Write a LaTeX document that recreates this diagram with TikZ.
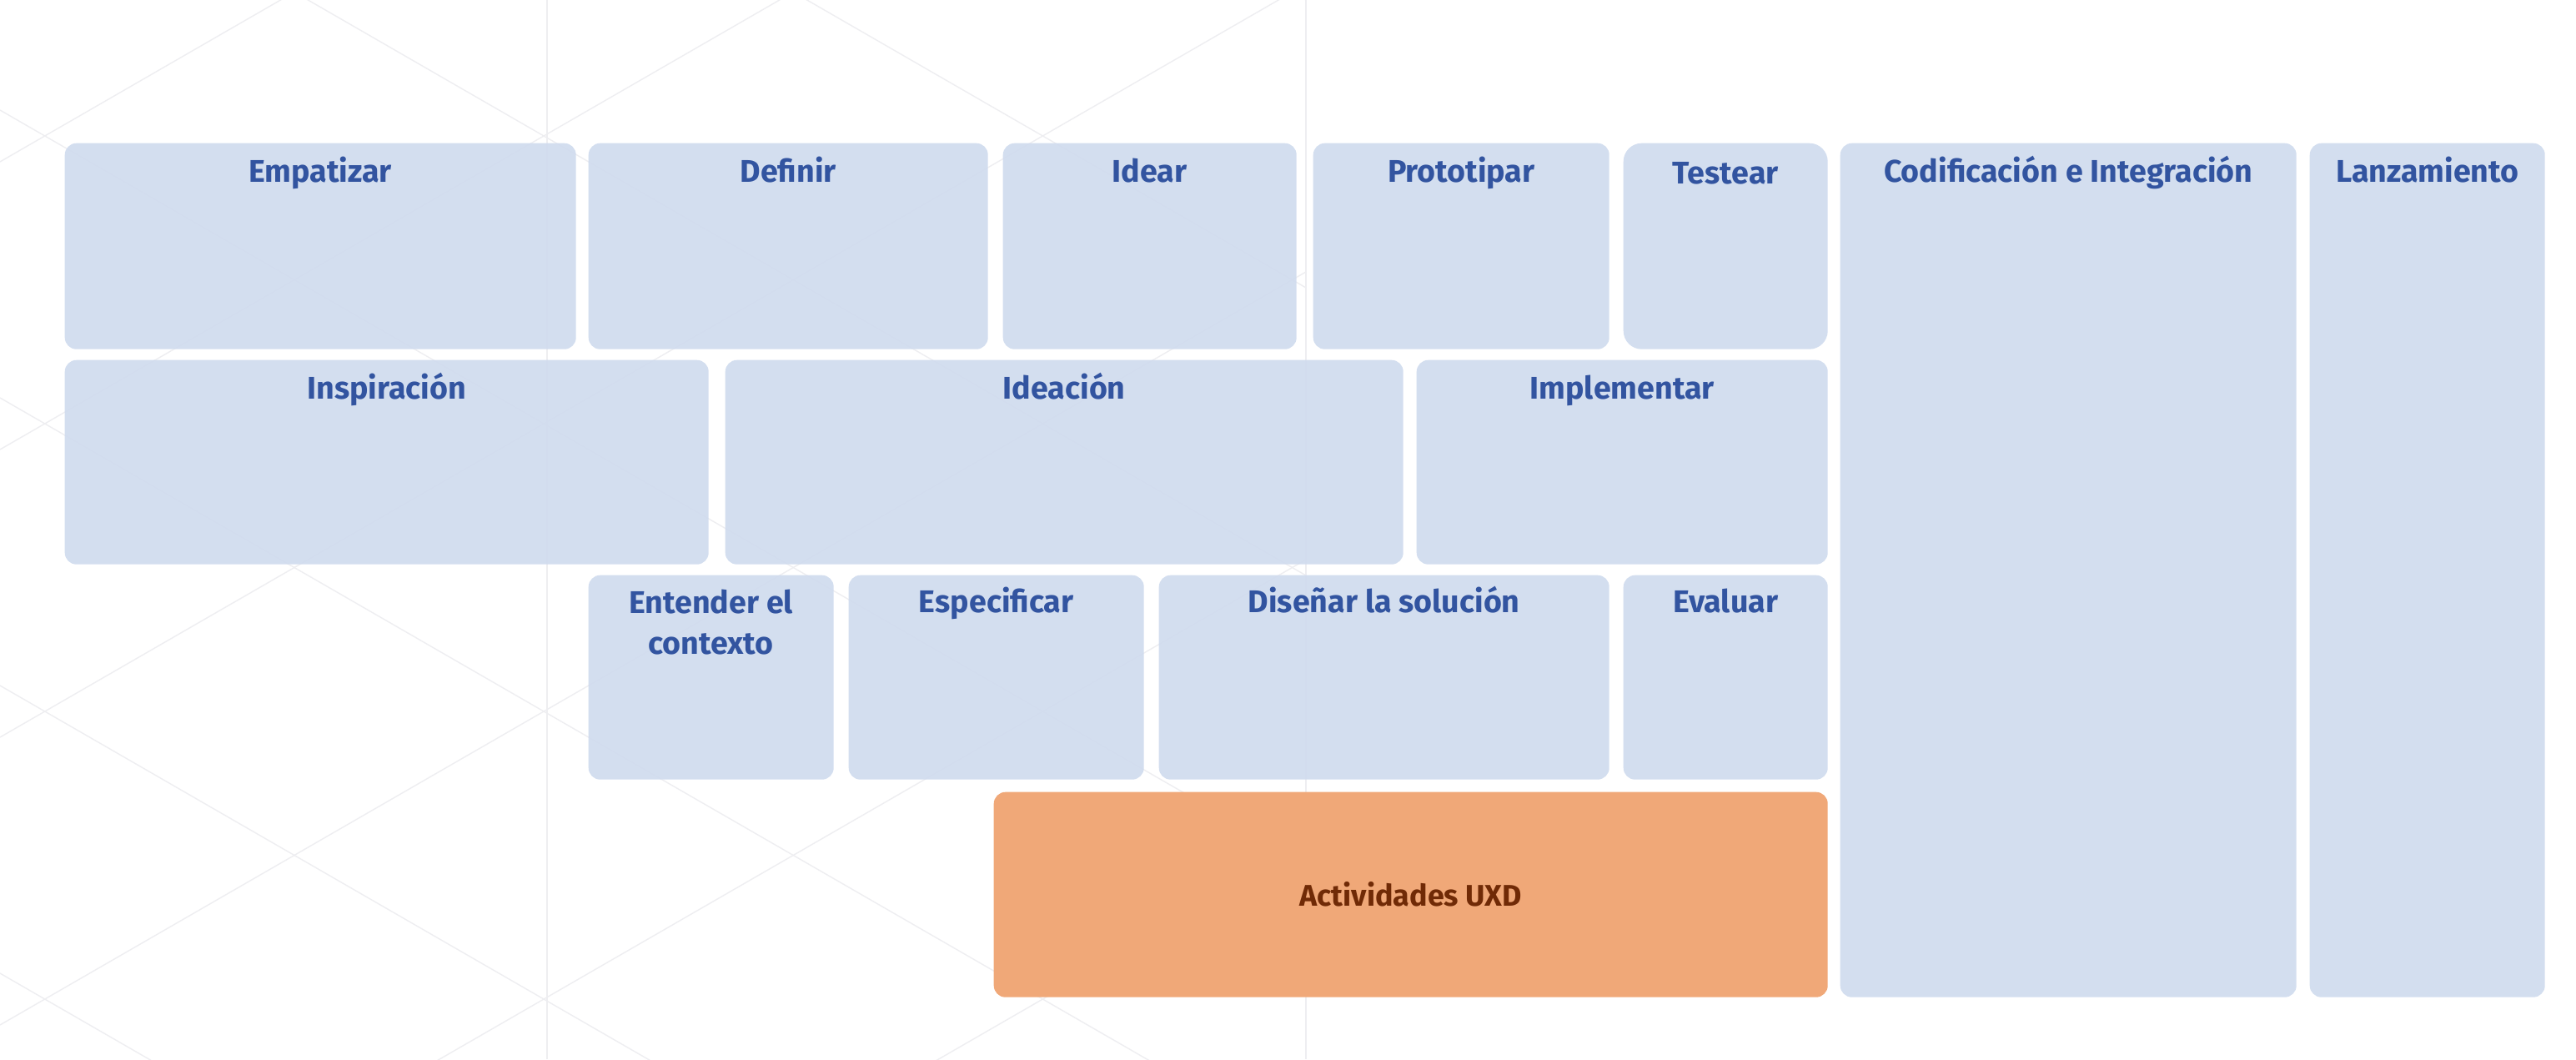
\documentclass[tikz,border=0pt]{standalone}
\usepackage{fontspec}
\setmainfont{Fira Sans}
\usetikzlibrary{positioning}
\definecolor{stagefill}{RGB}{207,219,238}
\definecolor{stagetext}{RGB}{50,84,160}
\definecolor{uxdfill}{RGB}{240,168,120}
\definecolor{uxdtext}{RGB}{112,42,6}
\definecolor{gridline}{RGB}{238,238,241}

\begin{document}
\begin{tikzpicture}[
              stage/.style={fill=stagefill, fill opacity=0.9, rounded corners=0.14cm, inner sep=0, anchor=north west},
              uxdbox/.style={fill=uxdfill, rounded corners=0.14cm, inner sep=0, anchor=north west},
              lbl/.style={text=stagetext, font=\fontsize{10.7}{13.9}\selectfont\bfseries, inner sep=0, align=center},
              lblone/.style={lbl, text height=0.26cm},
              uxdlbl/.style={text=uxdtext, font=\fontsize{10.2}{13}\selectfont\bfseries, inner sep=0},
              grid/.style={draw=gridline, line width=0.4pt}
            ]

            \useasboundingbox (0,0) rectangle (30.89,-12.70);
            \fill[white] (0,0) rectangle (30.89,-12.70);

            % Fondo
            \begin{scope}
              \clip (0,0) rectangle (15.66,-12.70);
              \foreach \k in {-3,...,5} {
                \draw[grid] (0,{(213-345*\k)/100}) -- (15.66,{-(690+345*\k)/100});
                \draw[grid] (0,{-(539+345*\k)/100}) -- (15.66,{(364-345*\k)/100});
              }
            \end{scope}
            \draw[grid] (6.56,0) -- (6.56,-12.70);
            \draw[grid] (15.66,0) -- (15.66,-12.70);

            % Fila 1
            \node[stage, minimum width=6.13cm, minimum height=2.47cm] (emp) at (0.77,-1.71) {};
            \node[stage, minimum width=4.79cm, minimum height=2.47cm] (def) at (7.05,-1.71) {};
            \node[stage, minimum width=3.52cm, minimum height=2.47cm] (ide) at (12.02,-1.71) {};
            \node[stage, minimum width=3.55cm, minimum height=2.47cm] (pro) at (15.74,-1.71) {};
            \node[stage, rounded corners=0.22cm, minimum width=2.45cm, minimum height=2.47cm] (tes) at (19.46,-1.71) {};
            \node[stage, minimum width=5.47cm, minimum height=10.24cm] (cod) at (22.06,-1.71) {};
            \node[stage, minimum width=2.82cm, minimum height=10.24cm] (lan) at (27.69,-1.71) {};

            % Fila 2
            \node[stage, minimum width=7.72cm, minimum height=2.45cm] (ins) at (0.77,-4.31) {};
            \node[stage, minimum width=8.13cm, minimum height=2.45cm] (idc) at (8.69,-4.31) {};
            \node[stage, minimum width=4.93cm, minimum height=2.45cm] (imp) at (16.98,-4.31) {};

            % Fila 3
            \node[stage, minimum width=2.94cm, minimum height=2.45cm] (ent) at (7.05,-6.89) {};
            \node[stage, minimum width=3.54cm, minimum height=2.45cm] (esp) at (10.17,-6.89) {};
            \node[stage, minimum width=5.40cm, minimum height=2.45cm] (dis) at (13.89,-6.89) {};
            \node[stage, minimum width=2.45cm, minimum height=2.45cm] (eva) at (19.46,-6.89) {};

            % Actividades UXD
            \node[uxdbox, minimum width=10.00cm, minimum height=2.46cm] (uxd) at (11.91,-9.49) {};

            % Etiquetas
            \node[lblone, below=0.21cm of emp.north] (empL) {Empatizar};
            \node[lblone, below=0.21cm of def.north] (defL) {Definir};
            \node[lblone, below=0.21cm of ide.north] (ideL) {Idear};
            \node[lblone, below=0.21cm of pro.north] (proL) {Prototipar};
            \node[lblone, below=0.23cm of tes.north] (tesL) {Testear};
            \node[lblone, below=0.21cm of cod.north] (codL) {Codificación e Integración};
            \node[lblone, below=0.21cm of lan.north] (lanL) {Lanzamiento};
            \node[lblone, below=0.21cm of ins.north] (insL) {Inspiración};
            \node[lblone, below=0.21cm of idc.north] (idcL) {Ideación};
            \node[lblone, below=0.21cm of imp.north] (impL) {Implementar};
            \node[lbl, below=0.17cm of ent.north] (entL) {Entender el\\contexto};
            \node[lblone, below=0.19cm of esp.north] (espL) {Especificar};
            \node[lblone, below=0.19cm of dis.north] (disL) {Diseñar la solución};
            \node[lblone, below=0.19cm of eva.north] (evaL) {Evaluar};
            \node[uxdlbl] (uxdL) at (uxd.center) {Actividades UXD};

            \end{tikzpicture}
\end{document}
